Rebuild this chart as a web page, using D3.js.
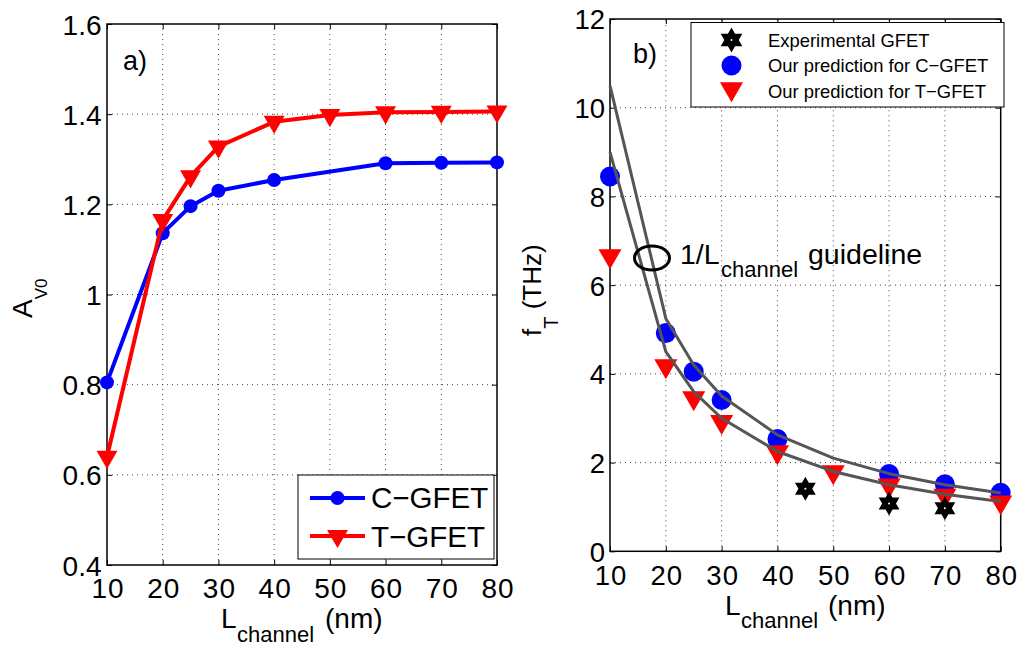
<!doctype html>
<html>
<head>
<meta charset="UTF-8">
<title>GFET gain and cutoff frequency</title>
<script src="https://d3js.org/d3.v7.min.js"></script>
<style>
  body { margin: 0; background: #fff; }
  text { font-family: "Liberation Sans", Arial, Helvetica, sans-serif; fill: #000; }
</style>
</head>
<body>
<script>
// ---- panel a) : intrinsic voltage gain
var lenC = [10, 20, 25, 30, 40, 60, 70, 80];
var avC = [0.805, 1.136, 1.196, 1.230, 1.254, 1.291, 1.292, 1.293];
var lenT = [10, 20, 25, 30, 40, 50, 60, 70, 80];
var avT = [0.64, 1.165, 1.262, 1.328, 1.383, 1.398, 1.404, 1.405, 1.406];

// ---- panel b) : cutoff frequency (THz)
var ftC = [8.45, 4.92, 4.05, 3.41, 2.53, 1.74, 1.51, 1.32];
var ftT = [6.66, 4.18, 3.46, 2.92, 2.24, 1.79, 1.49, 1.26, 1.11];
var lenExp = [45, 60, 70];
var ftExp = [1.41, 1.08, 0.97];
var lenGuide = [10, 20, 25, 30, 40, 50, 60, 70, 80];
var guideUp = [10.5, 5.25, 4.2, 3.5, 2.625, 2.1, 1.75, 1.5, 1.3125];
var guideLo = [9, 4.5, 3.6, 3, 2.25, 1.8, 1.5, 1.286, 1.125];

var xTicks = [10, 20, 30, 40, 50, 60, 70, 80];
var yTicksA = [0.4, 0.6, 0.8, 1, 1.2, 1.4, 1.6];
var yTicksB = [0, 2, 4, 6, 8, 10, 12];

var svg = d3.select("body").append("svg")
  .attr("width", 1018).attr("height", 646);
svg.append("rect").attr("width", 1018).attr("height", 646).attr("fill", "#fff");

var xA = d3.scaleLinear().domain([10, 80]).range([107, 497]);
var yA = d3.scaleLinear().domain([0.4, 1.6]).range([565, 24]);
var xB = d3.scaleLinear().domain([10, 80]).range([610, 1000.7]);
var yB = d3.scaleLinear().domain([0, 12]).range([551.3, 19]);

var fmt = d3.format("~g");

function frame(x, y, yTicks, fs, xlab, ylab) {
  var g = svg.append("g");
  var x0 = x.range()[0], x1 = x.range()[1], y0 = y.range()[0], y1 = y.range()[1];
  // dotted grid
  g.selectAll(".gx").data(xTicks.slice(1, -1)).enter().append("line")
    .attr("x1", x).attr("x2", x).attr("y1", y0).attr("y2", y1)
    .attr("stroke", "#444").attr("stroke-width", 1).attr("stroke-dasharray", "1,4");
  g.selectAll(".gy").data(yTicks.slice(1, -1)).enter().append("line")
    .attr("y1", y).attr("y2", y).attr("x1", x0).attr("x2", x1)
    .attr("stroke", "#444").attr("stroke-width", 1).attr("stroke-dasharray", "1,4");

  function clean(sel) {
    sel.select(".domain").remove();
    sel.selectAll(".tick line").attr("stroke", "#000");
    sel.selectAll(".tick text").style("font-size", fs + "px");
  }
  g.append("g").attr("transform", "translate(0," + y0 + ")")
    .call(d3.axisBottom(x).tickValues(xTicks).tickSize(-5))
    .call(clean)
    .selectAll(".tick text").attr("dy", null).attr("y", xlab).attr("x", 0.5)
    .style("letter-spacing", "1px");
  g.append("g").attr("transform", "translate(0," + y1 + ")")
    .call(d3.axisTop(x).tickValues(xTicks).tickSize(-5).tickFormat(""))
    .call(clean);
  g.append("g").attr("transform", "translate(" + x0 + ",0)")
    .call(d3.axisLeft(y).tickValues(yTicks).tickSize(-5).tickFormat(fmt))
    .call(clean)
    .selectAll(".tick text").attr("x", -ylab).attr("dy", "0.36em");
  g.append("g").attr("transform", "translate(" + x1 + ",0)")
    .call(d3.axisRight(y).tickValues(yTicks).tickSize(-5).tickFormat(""))
    .call(clean);
  g.selectAll("text").attr("fill", "#000").attr("font-family", null);

  g.append("rect").attr("x", x0).attr("y", y1)
    .attr("width", x1 - x0).attr("height", y0 - y1)
    .attr("fill", "none").attr("stroke", "#000").attr("stroke-width", 1.5);
  return g;
}

frame(xA, yA, yTicksA, 28, 33, 5.5);
frame(xB, yB, yTicksB, 27.5, 34, 5);

var triDown = function (size) {
  return d3.symbol().type(d3.symbolTriangle).size(size)();
};

function hexagram(r) {
  var pts = [];
  for (var k = 0; k < 12; k++) {
    var a = -Math.PI / 2 + k * Math.PI / 6;
    var rr = k % 2 === 0 ? r : r / Math.sqrt(3);
    pts.push([rr * Math.cos(a), rr * Math.sin(a)]);
  }
  return "M" + pts.join("L") + "Z";
}

// ---- panel a) data
var lineA = d3.line().x(function (d) { return xA(d[0]); }).y(function (d) { return yA(d[1]); });
var dC = d3.zip(lenC, avC), dT = d3.zip(lenT, avT);

svg.append("path").datum(dC).attr("d", lineA)
  .attr("fill", "none").attr("stroke", "#0000ff").attr("stroke-width", 4).attr("stroke-linejoin", "round");
svg.selectAll(".mc").data(dC).enter().append("circle")
  .attr("cx", function (d) { return xA(d[0]); }).attr("cy", function (d) { return yA(d[1]); })
  .attr("r", 7).attr("fill", "#0000ff");

svg.append("path").datum(dT).attr("d", lineA)
  .attr("fill", "none").attr("stroke", "#ff0000").attr("stroke-width", 4).attr("stroke-linejoin", "round");
svg.selectAll(".mt").data(dT).enter().append("path")
  .attr("d", triDown(190))
  .attr("transform", function (d) { return "translate(" + xA(d[0]) + "," + yA(d[1]) + ") rotate(180)"; })
  .attr("fill", "#ff0000");

svg.append("text").attr("x", 123).attr("y", 70).style("font-size", "27px").text("a)");

// legend a)
var legA = svg.append("g");
legA.append("rect").attr("x", 298).attr("y", 475).attr("width", 196).attr("height", 84)
  .attr("fill", "#fff").attr("stroke", "#000").attr("stroke-width", 1);
legA.append("line").attr("x1", 310).attr("x2", 365).attr("y1", 498).attr("y2", 498)
  .attr("stroke", "#0000ff").attr("stroke-width", 4);
legA.append("circle").attr("cx", 337.5).attr("cy", 498).attr("r", 7).attr("fill", "#0000ff");
legA.append("line").attr("x1", 310).attr("x2", 365).attr("y1", 536).attr("y2", 536)
  .attr("stroke", "#ff0000").attr("stroke-width", 4);
legA.append("path").attr("d", triDown(190))
  .attr("transform", "translate(337.5,536) rotate(180)").attr("fill", "#ff0000");
legA.append("text").attr("x", 371).attr("y", 508).style("font-size", "29.5px").text("C\u2212GFET");
legA.append("text").attr("x", 371).attr("y", 547).style("font-size", "29.5px").text("T\u2212GFET");

// axis titles a)
var xtA = svg.append("text").attr("y", 628).style("font-size", "28px");
xtA.append("tspan").attr("x", 221).text("L");
xtA.append("tspan").attr("x", 237).attr("dy", 14).style("font-size", "22px").text("channel");
xtA.append("tspan").attr("x", 325).attr("dy", -14).text("(nm)");

var ytA = svg.append("text").attr("transform", "translate(32,318) rotate(-90)").style("font-size", "28px");
ytA.append("tspan").text("A");
ytA.append("tspan").attr("dy", 15).style("font-size", "17px").text("V0");

// ---- panel b) data
var lineB = d3.line().x(function (d) { return xB(d[0]); }).y(function (d) { return yB(d[1]); });

svg.selectAll(".bc").data(d3.zip(lenC, ftC)).enter().append("circle")
  .attr("cx", function (d) { return xB(d[0]); }).attr("cy", function (d) { return yB(d[1]); })
  .attr("r", 10).attr("fill", "#0000ff");
svg.selectAll(".bt").data(d3.zip(lenT, ftT)).enter().append("path")
  .attr("d", triDown(230))
  .attr("transform", function (d) { return "translate(" + xB(d[0]) + "," + yB(d[1]) + ") rotate(180)"; })
  .attr("fill", "#ff0000");
var stars = svg.selectAll(".be").data(d3.zip(lenExp, ftExp)).enter().append("g")
  .attr("transform", function (d) { return "translate(" + xB(d[0]) + "," + yB(d[1]) + ")"; });
stars.append("path").attr("d", hexagram(12)).attr("fill", "#000");
stars.append("circle").attr("r", 1).attr("fill", "#fff");

[guideUp, guideLo].forEach(function (vals) {
  svg.append("path").datum(d3.zip(lenGuide, vals)).attr("d", lineB)
    .attr("fill", "none").attr("stroke", "#555").attr("stroke-width", 3).attr("stroke-linejoin", "round");
});

svg.append("text").attr("x", 633).attr("y", 63).style("font-size", "27px").text("b)");

// guideline annotation
svg.append("ellipse").attr("cx", 652).attr("cy", 258).attr("rx", 17.5).attr("ry", 12)
  .attr("fill", "none").attr("stroke", "#000").attr("stroke-width", 3);
var ann = svg.append("text").attr("y", 264).style("font-size", "28.5px");
ann.append("tspan").attr("x", 680).text("1/L");
ann.append("tspan").attr("x", 721).attr("dy", 13).style("font-size", "22px").text("channel");
ann.append("tspan").attr("x", 808).attr("dy", -13).text("guideline");

// legend b)
var legB = svg.append("g");
legB.append("rect").attr("x", 691).attr("y", 22.5).attr("width", 313).attr("height", 84.5)
  .attr("fill", "#fff").attr("stroke", "#000").attr("stroke-width", 1);
legB.append("path").attr("d", hexagram(12.5)).attr("transform", "translate(731.5,40)").attr("fill", "#000");
legB.append("circle").attr("cx", 731.5).attr("cy", 40).attr("r", 1).attr("fill", "#fff");
legB.append("circle").attr("cx", 731.5).attr("cy", 65.5).attr("r", 10).attr("fill", "#0000ff");
legB.append("path").attr("d", triDown(230)).attr("transform", "translate(731.5,89) rotate(180)").attr("fill", "#ff0000");
var legText = ["Experimental GFET", "Our prediction for C\u2212GFET", "Our prediction for T\u2212GFET"];
legB.selectAll(".lt").data(legText).enter().append("text")
  .attr("x", 768).attr("y", function (d, i) { return 46.5 + i * 25.5; })
  .style("font-size", "18.4px").text(function (d) { return d; });

// axis titles b)
var xtB = svg.append("text").attr("y", 615).style("font-size", "28px");
xtB.append("tspan").attr("x", 725).text("L");
xtB.append("tspan").attr("x", 741).attr("dy", 13).style("font-size", "22px").text("channel");
xtB.append("tspan").attr("x", 828).attr("dy", -13).text("(nm)");

var ytB = svg.append("text").attr("transform", "translate(541,336) rotate(-90)").style("font-size", "26px");
ytB.append("tspan").text("f");
ytB.append("tspan").attr("dy", 17).style("font-size", "20px").text("T");
ytB.append("tspan").attr("dy", -17).text(" (THz)");
</script>
</body>
</html>
